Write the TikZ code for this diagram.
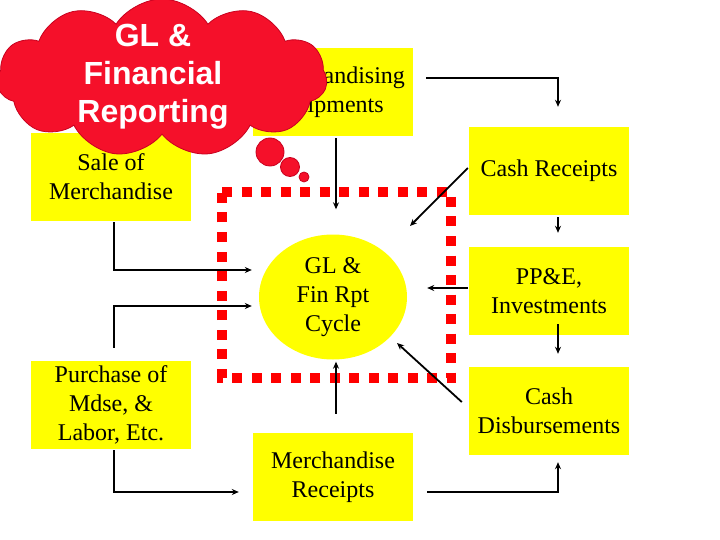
\documentclass[tikz,border=0pt]{standalone}
\usepackage{fontspec}
\setmainfont{Liberation Serif}
\newfontfamily\cloudfont{Liberation Sans}
\usetikzlibrary{shapes.geometric,shapes.symbols,calc,arrows.meta}
\definecolor{boxyellow}{RGB}{255,255,0}
\definecolor{cloudred}{RGB}{245,16,42}
\definecolor{clouddark}{RGB}{200,0,30}
\definecolor{dotred}{RGB}{255,0,0}
\begin{document}
\begin{tikzpicture}[x=1pt,y=-1pt,
  box/.style={rectangle,fill=boxyellow,minimum width=160pt,minimum height=88pt,inner sep=0pt,align=center,font=\fontsize{24}{28.8}\selectfont},
  conn/.style={line width=1.8pt,-{Stealth[length=7pt,width=6pt]}},
  bubble/.style={circle,fill=cloudred,draw=clouddark,line width=0.8pt,inner sep=0pt},
  reddots/.style={draw=dotred,line width=10pt,dash pattern=on 10pt off 9.5pt}]
\useasboundingbox[fill=white] (0,0) rectangle (720,540);
% boxes
\node[box] (ship) at (333,92) {Merchandising\\Shipments};
\node[box] (sale) at (111,177) {Sale of\\Merchandise};
\node[box] (purch) at (111,405) {Purchase of\\Mdse, \&\\Labor, Etc.};
\node[box] (mrec) at (333,477) {Merchandise\\Receipts};
\node[box] (crec) at (549,171) {Cash Receipts};
\node[box] (ppe) at (549,291) {PP\&E,\\Investments};
\node[box] (cdis) at (549,411) {Cash\\Disbursements};
\node[ellipse,fill=boxyellow,minimum width=148pt,minimum height=125pt,inner sep=0pt,align=center,font=\fontsize{24}{28.8}\selectfont] (gl) at (333,297) {GL \&\\Fin Rpt\\Cycle};
% red dotted boundary
\draw[reddots] (222,192) -- (451,192) -- (451,378) -- (222,378) -- cycle;
% connectors
\draw[conn] ($(ship.east)+(13,-14)$) -| ($(crec.north)+(9,-20)$);
\draw[conn] ($(ship.south)+(3,2)$) -- ($(gl.north)+(3,-25)$);
\draw[conn] ($(sale.south)+(3,1)$) |- ($(gl.west)+(-7,-27)$);
\draw[conn] ($(purch.north)+(3,-13)$) |- ($(gl.west)+(-7,9)$);
\draw[conn] ($(purch.south)+(3,1)$) |- ($(mrec.west)+(-14,15)$);
\draw[conn] ($(mrec.east)+(14,15)$) -| ($(cdis.south)+(9,7)$);
\draw[conn] ($(mrec.north)+(3,-19)$) -- ($(gl.south)+(3,2)$);
\draw[conn] ($(crec.west)+(-1,-3)$) -- ($(gl.center)+(77,-71)$);
\draw[conn] ($(crec.south)+(9,2)$) -- ($(ppe.north)+(9,-14)$);
\draw[conn] ($(ppe.west)+(-1,-3)$) -- ($(gl.east)+(20,-9)$);
\draw[conn] ($(ppe.south)+(9,-11)$) -- ($(cdis.north)+(9,-13)$);
\draw[conn] ($(cdis.west)+(-7,-9)$) -- ($(gl.center)+(64,46)$);
% cloud callout
\node[cloud,cloud puffs=11,cloud puff arc=115,aspect=2.4,minimum width=330pt,minimum height=158pt,inner sep=0pt,fill=cloudred,draw=clouddark,line width=0.8pt] (cloud) at (162,78) {};
\node[align=center,text=white,font=\cloudfont\bfseries\fontsize{32}{38}\selectfont] (cloudtext) at (153,77) {GL \&\\Financial\\Reporting};
\node[bubble,minimum size=28pt] (b1) at (270,152) {};
\node[bubble,minimum size=19pt] (b2) at (290,167) {};
\node[bubble,minimum size=10pt] (b3) at (304,177) {};
\end{tikzpicture}
\end{document}
